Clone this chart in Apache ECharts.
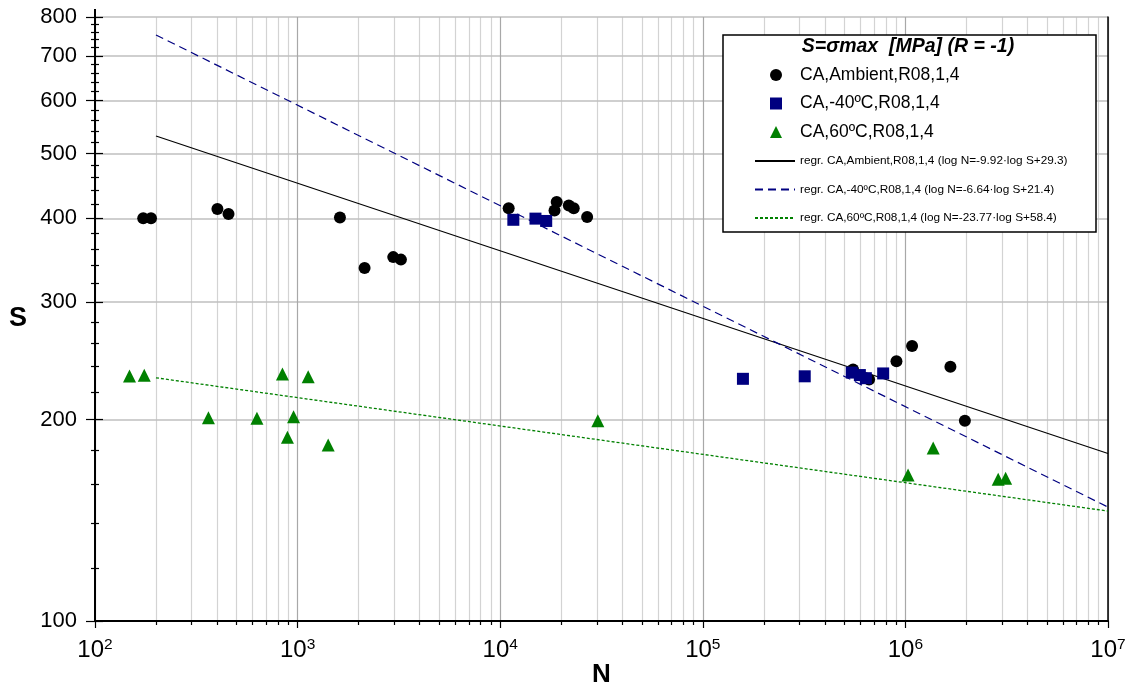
<!DOCTYPE html>
<html>
<head>
<meta charset="utf-8">
<script src="https://cdn.jsdelivr.net/npm/echarts@6/dist/echarts.min.js"></script>
<style>
  html, body { margin: 0; padding: 0; background: #ffffff; }
  #chart { width: 1136px; height: 685px; }
</style>
</head>
<body>
<div id="chart"></div>
<script>
// Fatigue test results: cycles to failure N versus maximum stress S (MPa), R = -1

const NAME_AMBIENT = 'CA,Ambient,R08,1,4';
const NAME_M40 = 'CA,-40ºC,R08,1,4';
const NAME_60 = 'CA,60ºC,R08,1,4';

const NAME_REG_AMBIENT = 'regr. CA,Ambient,R08,1,4 (log N=-9.92·log S+29.3)';
const NAME_REG_M40 = 'regr. CA,-40ºC,R08,1,4 (log N=-6.64·log S+21.4)';
const NAME_REG_60 = 'regr. CA,60ºC,R08,1,4 (log N=-23.77·log S+58.4)';

// Ambient temperature specimens
const N_AMBIENT = [173, 189, 402, 456, 1618, 2141, 2965, 3236, 11010, 18540, 19000, 21810, 23070, 26860,
                   551600, 661800, 903300, 1079000, 1668000, 1966000];
const S_AMBIENT = [400, 400, 413, 406, 401, 337, 350, 347, 414, 411, 423, 418, 414, 402,
                   237.7, 229.7, 244.6, 257.7, 239.9, 199.3];

// -40 ºC specimens
const N_M40 = [11610, 14930, 16870, 157800, 318500, 543500, 596000, 638000, 776700];
const S_M40 = [398, 399.6, 396.4, 230.2, 232.2, 235.2, 233.2, 230.7, 234.5];

// 60 ºC specimens
const N_60 = [148, 175, 363, 630, 842, 891, 955, 1128, 1416, 30330, 1031000, 1371000, 2870000, 3123000];
const S_60 = [232.4, 233, 201.3, 200.9, 234, 188.2, 202, 231.9, 183.3, 199.3, 165.3, 181.4, 162.9, 163.5];

// Regression lines (straight in log-log), end points
const REG_N = [200, 10000000];
const REG_S_AMBIENT = [531, 178];
const REG_S_M40 = [752, 148];
const REG_S_60 = [231, 146];

// Axis ticks
const X_MIN = 100, X_MAX = 10000000;
const Y_MIN = 100, Y_MAX = 800;
const X_DECADES = [100, 1000, 10000, 100000, 1000000];
const X_MULTIPLIERS = [2, 3, 4, 5, 6, 7, 8, 9];
const Y_MAJOR = [100, 200, 300, 400, 500, 600, 700, 800];
const Y_MINOR = [120, 140, 160, 180, 220, 240, 260, 280, 320, 340, 360, 380,
                 420, 440, 460, 480, 520, 540, 560, 580, 620, 640, 660, 680, 720, 740, 760, 780];

const X_MINOR = [];
X_DECADES.forEach(d => X_MULTIPLIERS.forEach(m => X_MINOR.push(d * m)));

const FONT = '"Liberation Sans", Arial, sans-serif';

const pairs = (xs, ys) => xs.map((x, i) => [x, ys[i]]);

function xAxisBase(extra) {
  return Object.assign({
    type: 'log', logBase: 10, min: X_MIN, max: X_MAX, position: 'bottom',
    axisLine: { show: false }, axisTick: { show: false }, axisLabel: { show: false },
    splitLine: { show: false }
  }, extra);
}
function yAxisBase(extra) {
  return Object.assign({
    type: 'log', logBase: 10, min: Y_MIN, max: Y_MAX, position: 'left',
    axisLine: { show: false }, axisTick: { show: false }, axisLabel: { show: false },
    splitLine: { show: false }
  }, extra);
}

const chart = echarts.init(document.getElementById('chart'), null, { renderer: 'canvas' });

chart.setOption({
  backgroundColor: '#ffffff',
  animation: false,
  grid: { left: 95, right: 28, top: 17, bottom: 64, outerBoundsMode: 'none' },
  xAxis: [
    xAxisBase({
      name: 'N', nameLocation: 'middle', nameGap: 41, nameMoveOverlap: false,
      nameTextStyle: { fontFamily: FONT, fontSize: 26, fontWeight: 'bold', color: '#000' },
      axisLine: { show: true, lineStyle: { color: '#000', width: 2 } },
      axisTick: { show: true, length: 7, lineStyle: { color: '#000', width: 1.2 } },
      axisLabel: {
        show: true, margin: 16,
        formatter: v => '{b|10}{s|' + Math.round(Math.log10(v)) + '}',
        rich: {
          b: { fontFamily: FONT, fontSize: 24, lineHeight: 26, color: '#000' },
          s: { fontFamily: FONT, fontSize: 15.5, color: '#000', verticalAlign: 'top' }
        }
      },
      splitLine: { show: true, lineStyle: { color: '#a8a8a8', width: 1.2 } },
      z: 1
    }),
    xAxisBase({
      axisTick: { show: true, length: 4, customValues: X_MINOR, lineStyle: { color: '#000', width: 1.2 } },
      splitLine: { show: true, lineStyle: { color: '#d3d3d3', width: 1.2 } },
      z: 0
    })
  ],
  yAxis: [
    yAxisBase({
      name: 'S', nameLocation: 'middle', nameGap: 68, nameRotate: 0, nameMoveOverlap: false,
      nameTextStyle: { fontFamily: FONT, fontSize: 27, fontWeight: 'bold', color: '#000', padding: [0, 0, 12, 0] },
      // the vertical axis line runs a little past the top of the plot
      axisLine: { show: true, symbol: ['none', 'rect'], symbolSize: [2, 16], lineStyle: { color: '#000', width: 2 } },
      axisTick: { show: true, length: 9, customValues: Y_MAJOR, lineStyle: { color: '#000', width: 1.2 } },
      axisLabel: { show: true, customValues: Y_MAJOR, margin: 18, fontFamily: FONT, fontSize: 22, color: '#000' },
      splitLine: { show: true, lineStyle: { color: '#bfbfbf', width: 1.5 } },
      z: 1
    }),
    yAxisBase({
      axisTick: { show: true, inside: true, length: 8, customValues: Y_MAJOR, lineStyle: { color: '#000', width: 1.2 } },
      z: 1
    }),
    yAxisBase({
      axisTick: { show: true, length: 4, customValues: Y_MINOR, lineStyle: { color: '#000', width: 1.2 } },
      z: 1
    }),
    yAxisBase({
      axisTick: { show: true, inside: true, length: 4, customValues: Y_MINOR, lineStyle: { color: '#000', width: 1.2 } },
      z: 1
    }),
    yAxisBase({
      position: 'right',
      axisLine: { show: true, lineStyle: { color: '#000', width: 1.5 } },
      z: 1
    })
  ],
  legend: [
    {
      data: [NAME_AMBIENT, NAME_M40, NAME_60],
      orient: 'vertical', left: 770, top: 66, padding: 0,
      itemWidth: 12, itemHeight: 12, itemGap: 10.5,
      selectedMode: false, z: 6,
      textStyle: { fontFamily: FONT, fontSize: 17.5, lineHeight: 18, color: '#000', padding: [0, 0, 0, 13] }
    },
    {
      data: [NAME_REG_AMBIENT, NAME_REG_M40, NAME_REG_60],
      orient: 'vertical', left: 754, top: 154, padding: 0,
      itemWidth: 40, itemHeight: 14, itemGap: 14.5,
      selectedMode: false, z: 6,
      itemStyle: { opacity: 0 },
      textStyle: { fontFamily: FONT, fontSize: 11.8, lineHeight: 14, color: '#000' }
    }
  ],
  graphic: [
    {
      type: 'rect', z: 4, silent: true,
      shape: { x: 723, y: 35, width: 373, height: 197 },
      style: { fill: '#ffffff', stroke: '#000000', lineWidth: 1.5 }
    },
    {
      type: 'text', z: 7, silent: true, x: 908, y: 47,
      style: {
        text: 'S=σmax  [MPa] (R = -1)', fontFamily: FONT, fontSize: 19.5,
        fontWeight: 'bold', fontStyle: 'italic', fill: '#000',
        align: 'center', verticalAlign: 'middle'
      }
    }
  ],
  series: [
    {
      name: NAME_REG_AMBIENT, type: 'line', data: pairs(REG_N, REG_S_AMBIENT),
      symbol: 'none', silent: true, z: 2,
      lineStyle: { color: '#000000', width: 1.2, type: 'solid' },
      itemStyle: { color: '#000000' }
    },
    {
      name: NAME_REG_M40, type: 'line', data: pairs(REG_N, REG_S_M40),
      symbol: 'none', silent: true, z: 2,
      lineStyle: { color: '#000080', width: 1.2, type: [8, 5] },
      itemStyle: { color: '#000080' }
    },
    {
      name: NAME_REG_60, type: 'line', data: pairs(REG_N, REG_S_60),
      symbol: 'none', silent: true, z: 2,
      lineStyle: { color: '#008000', width: 1.3, type: [3, 2] },
      itemStyle: { color: '#008000' }
    },
    {
      name: NAME_AMBIENT, type: 'scatter', data: pairs(N_AMBIENT, S_AMBIENT),
      symbol: 'circle', symbolSize: 12, z: 3,
      itemStyle: { color: '#000000', opacity: 1 }
    },
    {
      name: NAME_M40, type: 'scatter', data: pairs(N_M40, S_M40),
      symbol: 'rect', symbolSize: 12, z: 3,
      itemStyle: { color: '#000080', opacity: 1 }
    },
    {
      name: NAME_60, type: 'scatter', data: pairs(N_60, S_60),
      symbol: 'triangle', symbolSize: 13, z: 3,
      itemStyle: { color: '#008000', opacity: 1 }
    }
  ]
});
</script>
</body>
</html>
